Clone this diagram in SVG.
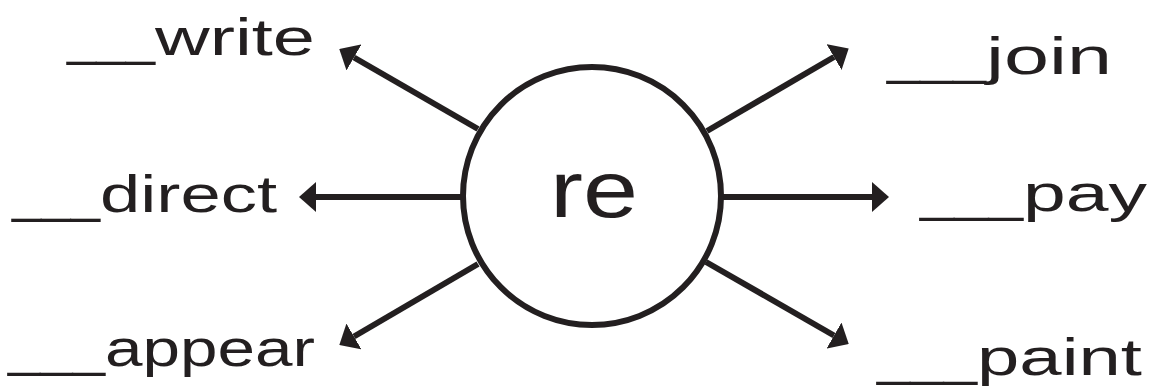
<svg xmlns="http://www.w3.org/2000/svg" width="1153" height="390" viewBox="0 0 1153 390">
  <style>
    .lbl { font-family: "Liberation Sans", Arial, sans-serif; font-size: 52px; fill: #231f20; }
    .center { font-family: "Liberation Sans", Arial, sans-serif; font-size: 80px; fill: #231f20; }
    .conn { stroke: #231f20; stroke-width: 6; fill: none; marker-end: url(#head); }
  </style>
  <defs>
    <marker id="head" viewBox="0 0 17 30" refX="0" refY="15" markerWidth="17" markerHeight="30" markerUnits="userSpaceOnUse" orient="auto">
      <path d="M0,0 L17,15 L0,30 Z" fill="#231f20"/>
    </marker>
  </defs>
  <rect width="1153" height="390" fill="#ffffff"/>
  <g id="connectors">
    <line class="conn" x1="478" y1="129" x2="354" y2="57.5"/>
    <line class="conn" x1="462" y1="197" x2="316" y2="197"/>
    <line class="conn" x1="722" y1="197" x2="872" y2="197"/>
    <line class="conn" x1="478" y1="264" x2="354" y2="336.5"/>
    <line class="conn" x1="706" y1="262" x2="834" y2="335.5"/>
    <line class="conn" x1="707" y1="131" x2="834" y2="57"/>
  </g>
  <g id="node-re">
    <circle cx="592" cy="196" r="129" fill="#ffffff" stroke="#231f20" stroke-width="6"/>
    <text class="center" x="550" y="217" textLength="88" lengthAdjust="spacingAndGlyphs">re</text>
  </g>
  <g id="node-write">
    <text class="lbl" y="55"><tspan x="67" textLength="88" lengthAdjust="spacingAndGlyphs">___</tspan><tspan x="155" textLength="160" lengthAdjust="spacingAndGlyphs">write</tspan></text>
  </g>
  <g id="node-direct">
    <text class="lbl" y="212"><tspan x="12" textLength="88" lengthAdjust="spacingAndGlyphs">___</tspan><tspan x="100" textLength="177" lengthAdjust="spacingAndGlyphs">direct</tspan></text>
  </g>
  <g id="node-appear">
    <text class="lbl" y="366"><tspan x="8" textLength="97" lengthAdjust="spacingAndGlyphs">___</tspan><tspan x="105" textLength="210" lengthAdjust="spacingAndGlyphs">appear</tspan></text>
  </g>
  <g id="node-join">
    <text class="lbl" y="74"><tspan x="887" textLength="99" lengthAdjust="spacingAndGlyphs">___</tspan><tspan x="986" textLength="126" lengthAdjust="spacingAndGlyphs">join</tspan></text>
  </g>
  <g id="node-pay">
    <text class="lbl" y="211"><tspan x="920" textLength="103" lengthAdjust="spacingAndGlyphs">___</tspan><tspan x="1023" textLength="124" lengthAdjust="spacingAndGlyphs">pay</tspan></text>
  </g>
  <g id="node-paint">
    <text class="lbl" y="375"><tspan x="877" textLength="100" lengthAdjust="spacingAndGlyphs">___</tspan><tspan x="977" textLength="165" lengthAdjust="spacingAndGlyphs">paint</tspan></text>
  </g>
</svg>
